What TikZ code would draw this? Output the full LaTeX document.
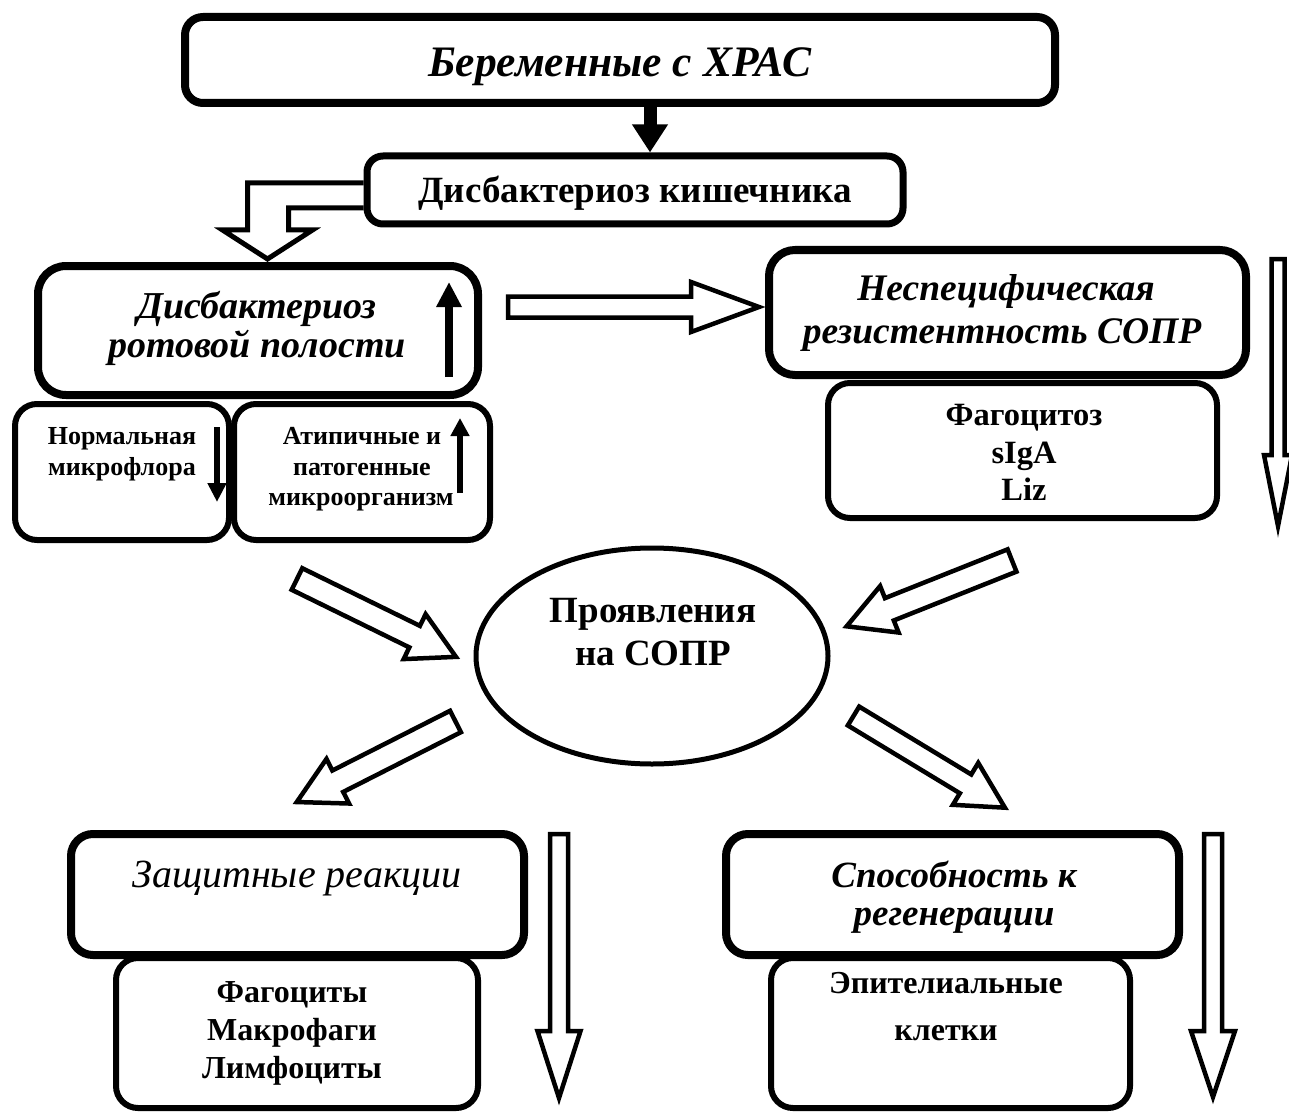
\documentclass[tikz,border=0pt]{standalone}
\usepackage{fontspec}
\setmainfont{Liberation Serif}
\usetikzlibrary{shapes.geometric,arrows.meta}
\tikzset{
  bigbox/.style={draw, line width=8pt, rounded corners=22pt, inner sep=0pt},
  subbox/.style={draw, line width=6pt, rounded corners=22pt, inner sep=0pt},
  hollow/.style={draw, line width=4.5pt, fill=white, line join=miter},
  lbl/.style={anchor=base, inner sep=0pt, outer sep=0pt},
  fbi/.style={font=\fontsize{#1}{#1}\selectfont\bfseries\itshape},
  fit/.style={font=\fontsize{#1}{#1}\selectfont\itshape},
  fb/.style={font=\fontsize{#1}{#1}\selectfont\bfseries},
}
\newcommand\blockarrow[6]{%
  \begin{scope}[shift={(#1)}, rotate=#2]
    \draw[hollow] (0,-#4) -- ({#3-#6},-#4) -- ({#3-#6},-#5) -- (#3,0) -- ({#3-#6},#5) -- ({#3-#6},#4) -- (0,#4) -- cycle;
  \end{scope}}
\begin{document}
\begin{tikzpicture}[x=1pt, y=-1pt]
\useasboundingbox (0,0) rectangle (1289,1115);

% boxes
\node[bigbox, rounded corners=18pt, minimum width=870pt, minimum height=86pt] (top) at (620,60) {};
\node[bigbox, line width=7pt, rounded corners=16pt, minimum width=536pt, minimum height=68pt] (box2) at (635,190) {};
\node[bigbox, rounded corners=28pt, minimum width=440pt, minimum height=129pt] (rot) at (258,330.5) {};
\node[subbox, minimum width=214pt, minimum height=136pt] (norm) at (122,472) {};
\node[subbox, minimum width=256pt, minimum height=136pt] (atip) at (362,472) {};
\node[bigbox, rounded corners=26pt, minimum width=477pt, minimum height=125pt] (nesp) at (1007.5,312.5) {};
\node[subbox, minimum width=389pt, minimum height=135pt] (fago) at (1022.5,450.5) {};
\node[draw, ellipse, line width=5pt, minimum width=352pt, minimum height=216pt, inner sep=0pt] (man) at (652,656) {};
\node[bigbox, minimum width=453pt, minimum height=121pt] (zasch) at (297.5,894.5) {};
\node[subbox, minimum width=362pt, minimum height=150pt] (cells) at (297,1033) {};
\node[bigbox, minimum width=453pt, minimum height=121pt] (regen) at (952.5,894.5) {};
\node[subbox, minimum width=359pt, minimum height=150pt] (epit) at (950.5,1033) {};

% texts
\node[lbl, fbi=43.5] (t1) at (620,77) {Беременные с ХРАС};
\node[lbl, fb=37] (t2) at (635,203) {Дисбактериоз кишечника};
\node[lbl, fbi=38] (t3a) at (257,318) {Дисбактериоз};
\node[lbl, fbi=38] (t3b) at (257,357) {ротовой полости};
\node[lbl, fb=26] (t4a) at (122,444) {Нормальная};
\node[lbl, fb=26] (t4b) at (122,475) {микрофлора};
\node[lbl, fb=26] (t5a) at (362,444) {Атипичные и};
\node[lbl, fb=26] (t5b) at (362,475) {патогенные};
\node[lbl, fb=26] (t5c) at (361,505) {микроорганизм};
\node[lbl, fbi=37.5] (t6a) at (1006,300) {Неспецифическая};
\node[lbl, fbi=37.5] (t6b) at (1002,343) {резистентность СОПР};
\node[lbl, fb=32.5] (t7a) at (1024,425) {Фагоцитоз};
\node[lbl, fb=32.5] (t7b) at (1024,463) {sIgA};
\node[lbl, fb=32.5] (t7c) at (1024,500) {Liz};
\node[lbl, fb=37] (t8a) at (653,622) {Проявления};
\node[lbl, fb=37] (t8b) at (653,665) {на СОПР};
\node[lbl, fit=40] (t9) at (297,887) {Защитные реакции};
\node[lbl, fb=32] (t10a) at (292,1002) {Фагоциты};
\node[lbl, fb=32] (t10b) at (292,1040) {Макрофаги};
\node[lbl, fb=32] (t10c) at (292,1078) {Лимфоциты};
\node[lbl, fbi=37] (t11a) at (954,887) {Способность к};
\node[lbl, fbi=37] (t11b) at (954,925) {регенерации};
\node[lbl, fb=32] (t12a) at (946,993) {Эпителиальные};
\node[lbl, fb=32] (t12b) at (946,1040) {клетки};

% solid arrows
\draw[line width=13pt, -{Triangle[length=28pt, width=34pt]}] ([xshift=30pt]top.south) -- ([xshift=15pt]box2.north);
\coordinate (ra) at (449,377); \coordinate (rb) at (449,282);
\draw[line width=8pt, -{Triangle[length=25pt, width=24pt]}] (ra) -- (rb);
\coordinate (na) at (217,427); \coordinate (nb) at (217,502);
\draw[line width=6pt, -{Triangle[length=19pt, width=18pt]}] (na) -- (nb);
\coordinate (aa) at (460,493); \coordinate (ab) at (460,418);
\draw[line width=6pt, -{Triangle[length=18pt, width=18pt]}] (aa) -- (ab);

% L-shaped hollow arrow from box2 to rot
\draw[hollow, fill=none, line width=5pt] ([yshift=7pt]box2.west) -- ++(-116,0) -- ++(0,47) -- ++(-25,0) -- ++(45,29) -- ++(45,-29) -- ++(-24,0) -- ++(0,-22) -- ([yshift=-18pt]box2.west);

% hollow block arrows
\coordinate (eA) at (508,307);
\blockarrow{eA}{0}{251}{10.5}{25}{68}
\coordinate (eB) at (297,579);
\blockarrow{eB}{-26.1}{177}{12}{25}{46}
\coordinate (eC) at (1012,560.5);
\blockarrow{eC}{-158.3}{178}{12}{25}{46}
\coordinate (eD) at (455.5,721.5);
\blockarrow{eD}{-153.1}{178}{12}{25}{46}
\coordinate (eE) at (853.5,716);
\blockarrow{eE}{-31.2}{177}{11}{24.5}{46}
\coordinate (eF) at (1278,259);
\blockarrow{eF}{-90}{267}{6.5}{14}{71}
\coordinate (eG) at (559,834);
\blockarrow{eG}{-90}{264}{9}{21.5}{67}
\coordinate (eH) at (1213,834);
\blockarrow{eH}{-90}{263}{9}{22}{66}
\end{tikzpicture}
\end{document}
